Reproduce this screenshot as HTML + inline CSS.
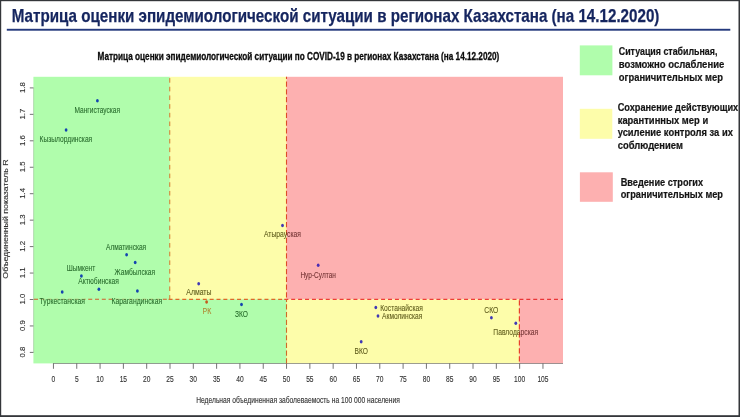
<!DOCTYPE html>
<html><head><meta charset="utf-8"><title>Матрица</title>
<style>html,body{margin:0;padding:0;background:#fff;}body{width:740px;height:417px;overflow:hidden;position:relative;font-family:"Liberation Sans",sans-serif;}svg{will-change:transform;position:absolute;left:0;top:0;display:block;}text{font-family:"Liberation Sans",sans-serif;}</style>
</head><body>
<svg width="740" height="417" viewBox="0 0 740 417">
<rect x="0" y="0" width="740" height="417" fill="#ffffff"/>
<text x="11.8" y="21.6" font-size="17.8" font-weight="bold" fill="#15255f" stroke="#15255f" stroke-width="0.25" textLength="647.6" lengthAdjust="spacingAndGlyphs">Матрица оценки эпидемиологической ситуации в регионах Казахстана (на 14.12.2020)</text>
<rect x="6.8" y="28.8" width="723.5" height="1.9" fill="#24397d"/>
<text x="97.6" y="59.6" font-size="10.2" font-weight="bold" fill="#0c0c0c" stroke="#0c0c0c" stroke-width="0.3" textLength="401.7" lengthAdjust="spacingAndGlyphs">Матрица оценки эпидемиологической ситуации по COVID-19 в регионах Казахстана (на 14.12.2020)</text>
<rect x="285.90" y="76.80" width="277.10" height="223.00" fill="#fdb0b0"/>
<rect x="518.80" y="299.30" width="44.20" height="64.10" fill="#fdb0b0"/>
<rect x="169.15" y="76.80" width="117.35" height="223.00" fill="#fdfdaa"/>
<rect x="285.90" y="299.30" width="233.50" height="64.10" fill="#fdfdaa"/>
<rect x="33.40" y="76.80" width="136.35" height="223.00" fill="#b0fdac"/>
<rect x="33.40" y="299.30" width="253.10" height="64.10" fill="#b0fdac"/>
<line x1="53.05" y1="363.50" x2="563.00" y2="363.50" stroke="#5a5a5a" stroke-width="0.8" stroke-opacity="0.75"/>
<line x1="53.45" y1="363.40" x2="53.45" y2="368.80" stroke="#5a5a5a" stroke-width="0.85"/>
<text x="51.60" y="382.4" font-size="9.5" fill="#262626" fill-opacity="0.95" stroke="#262626" stroke-width="0.18" stroke-opacity="0.6" textLength="3.7" lengthAdjust="spacingAndGlyphs">0</text>
<line x1="76.76" y1="363.40" x2="76.76" y2="368.80" stroke="#5a5a5a" stroke-width="0.85"/>
<text x="74.91" y="382.4" font-size="9.5" fill="#262626" fill-opacity="0.95" stroke="#262626" stroke-width="0.18" stroke-opacity="0.6" textLength="3.7" lengthAdjust="spacingAndGlyphs">5</text>
<line x1="100.07" y1="363.40" x2="100.07" y2="368.80" stroke="#5a5a5a" stroke-width="0.85"/>
<text x="96.37" y="382.4" font-size="9.5" fill="#262626" fill-opacity="0.95" stroke="#262626" stroke-width="0.18" stroke-opacity="0.6" textLength="7.4" lengthAdjust="spacingAndGlyphs">10</text>
<line x1="123.38" y1="363.40" x2="123.38" y2="368.80" stroke="#5a5a5a" stroke-width="0.85"/>
<text x="119.68" y="382.4" font-size="9.5" fill="#262626" fill-opacity="0.95" stroke="#262626" stroke-width="0.18" stroke-opacity="0.6" textLength="7.4" lengthAdjust="spacingAndGlyphs">15</text>
<line x1="146.69" y1="363.40" x2="146.69" y2="368.80" stroke="#5a5a5a" stroke-width="0.85"/>
<text x="142.99" y="382.4" font-size="9.5" fill="#262626" fill-opacity="0.95" stroke="#262626" stroke-width="0.18" stroke-opacity="0.6" textLength="7.4" lengthAdjust="spacingAndGlyphs">20</text>
<line x1="170.00" y1="363.40" x2="170.00" y2="368.80" stroke="#5a5a5a" stroke-width="0.85"/>
<text x="166.30" y="382.4" font-size="9.5" fill="#262626" fill-opacity="0.95" stroke="#262626" stroke-width="0.18" stroke-opacity="0.6" textLength="7.4" lengthAdjust="spacingAndGlyphs">25</text>
<line x1="193.31" y1="363.40" x2="193.31" y2="368.80" stroke="#5a5a5a" stroke-width="0.85"/>
<text x="189.61" y="382.4" font-size="9.5" fill="#262626" fill-opacity="0.95" stroke="#262626" stroke-width="0.18" stroke-opacity="0.6" textLength="7.4" lengthAdjust="spacingAndGlyphs">30</text>
<line x1="216.62" y1="363.40" x2="216.62" y2="368.80" stroke="#5a5a5a" stroke-width="0.85"/>
<text x="212.92" y="382.4" font-size="9.5" fill="#262626" fill-opacity="0.95" stroke="#262626" stroke-width="0.18" stroke-opacity="0.6" textLength="7.4" lengthAdjust="spacingAndGlyphs">35</text>
<line x1="239.93" y1="363.40" x2="239.93" y2="368.80" stroke="#5a5a5a" stroke-width="0.85"/>
<text x="236.23" y="382.4" font-size="9.5" fill="#262626" fill-opacity="0.95" stroke="#262626" stroke-width="0.18" stroke-opacity="0.6" textLength="7.4" lengthAdjust="spacingAndGlyphs">40</text>
<line x1="263.24" y1="363.40" x2="263.24" y2="368.80" stroke="#5a5a5a" stroke-width="0.85"/>
<text x="259.54" y="382.4" font-size="9.5" fill="#262626" fill-opacity="0.95" stroke="#262626" stroke-width="0.18" stroke-opacity="0.6" textLength="7.4" lengthAdjust="spacingAndGlyphs">45</text>
<line x1="286.55" y1="363.40" x2="286.55" y2="368.80" stroke="#5a5a5a" stroke-width="0.85"/>
<text x="282.85" y="382.4" font-size="9.5" fill="#262626" fill-opacity="0.95" stroke="#262626" stroke-width="0.18" stroke-opacity="0.6" textLength="7.4" lengthAdjust="spacingAndGlyphs">50</text>
<line x1="309.86" y1="363.40" x2="309.86" y2="368.80" stroke="#5a5a5a" stroke-width="0.85"/>
<text x="306.16" y="382.4" font-size="9.5" fill="#262626" fill-opacity="0.95" stroke="#262626" stroke-width="0.18" stroke-opacity="0.6" textLength="7.4" lengthAdjust="spacingAndGlyphs">55</text>
<line x1="333.17" y1="363.40" x2="333.17" y2="368.80" stroke="#5a5a5a" stroke-width="0.85"/>
<text x="329.47" y="382.4" font-size="9.5" fill="#262626" fill-opacity="0.95" stroke="#262626" stroke-width="0.18" stroke-opacity="0.6" textLength="7.4" lengthAdjust="spacingAndGlyphs">60</text>
<line x1="356.48" y1="363.40" x2="356.48" y2="368.80" stroke="#5a5a5a" stroke-width="0.85"/>
<text x="352.78" y="382.4" font-size="9.5" fill="#262626" fill-opacity="0.95" stroke="#262626" stroke-width="0.18" stroke-opacity="0.6" textLength="7.4" lengthAdjust="spacingAndGlyphs">65</text>
<line x1="379.79" y1="363.40" x2="379.79" y2="368.80" stroke="#5a5a5a" stroke-width="0.85"/>
<text x="376.09" y="382.4" font-size="9.5" fill="#262626" fill-opacity="0.95" stroke="#262626" stroke-width="0.18" stroke-opacity="0.6" textLength="7.4" lengthAdjust="spacingAndGlyphs">70</text>
<line x1="403.10" y1="363.40" x2="403.10" y2="368.80" stroke="#5a5a5a" stroke-width="0.85"/>
<text x="399.40" y="382.4" font-size="9.5" fill="#262626" fill-opacity="0.95" stroke="#262626" stroke-width="0.18" stroke-opacity="0.6" textLength="7.4" lengthAdjust="spacingAndGlyphs">75</text>
<line x1="426.41" y1="363.40" x2="426.41" y2="368.80" stroke="#5a5a5a" stroke-width="0.85"/>
<text x="422.71" y="382.4" font-size="9.5" fill="#262626" fill-opacity="0.95" stroke="#262626" stroke-width="0.18" stroke-opacity="0.6" textLength="7.4" lengthAdjust="spacingAndGlyphs">80</text>
<line x1="449.72" y1="363.40" x2="449.72" y2="368.80" stroke="#5a5a5a" stroke-width="0.85"/>
<text x="446.02" y="382.4" font-size="9.5" fill="#262626" fill-opacity="0.95" stroke="#262626" stroke-width="0.18" stroke-opacity="0.6" textLength="7.4" lengthAdjust="spacingAndGlyphs">85</text>
<line x1="473.03" y1="363.40" x2="473.03" y2="368.80" stroke="#5a5a5a" stroke-width="0.85"/>
<text x="469.33" y="382.4" font-size="9.5" fill="#262626" fill-opacity="0.95" stroke="#262626" stroke-width="0.18" stroke-opacity="0.6" textLength="7.4" lengthAdjust="spacingAndGlyphs">90</text>
<line x1="496.34" y1="363.40" x2="496.34" y2="368.80" stroke="#5a5a5a" stroke-width="0.85"/>
<text x="492.64" y="382.4" font-size="9.5" fill="#262626" fill-opacity="0.95" stroke="#262626" stroke-width="0.18" stroke-opacity="0.6" textLength="7.4" lengthAdjust="spacingAndGlyphs">95</text>
<line x1="519.65" y1="363.40" x2="519.65" y2="368.80" stroke="#5a5a5a" stroke-width="0.85"/>
<text x="514.10" y="382.4" font-size="9.5" fill="#262626" fill-opacity="0.95" stroke="#262626" stroke-width="0.18" stroke-opacity="0.6" textLength="11.1" lengthAdjust="spacingAndGlyphs">100</text>
<line x1="542.96" y1="363.40" x2="542.96" y2="368.80" stroke="#5a5a5a" stroke-width="0.85"/>
<text x="537.41" y="382.4" font-size="9.5" fill="#262626" fill-opacity="0.95" stroke="#262626" stroke-width="0.18" stroke-opacity="0.6" textLength="11.1" lengthAdjust="spacingAndGlyphs">105</text>
<line x1="33.60" y1="352.80" x2="33.60" y2="87.50" stroke="#5a5a5a" stroke-width="0.6" stroke-opacity="0.35"/>
<line x1="29.80" y1="352.40" x2="33.40" y2="352.40" stroke="#5a5a5a" stroke-width="0.85"/>
<text transform="translate(24.8,357.50) rotate(-90)" font-size="7" fill="#262626" fill-opacity="0.95" stroke="#262626" stroke-width="0.18" stroke-opacity="0.6" textLength="10.8" lengthAdjust="spacingAndGlyphs">0.8</text>
<line x1="29.80" y1="325.95" x2="33.40" y2="325.95" stroke="#5a5a5a" stroke-width="0.85"/>
<text transform="translate(24.8,331.05) rotate(-90)" font-size="7" fill="#262626" fill-opacity="0.95" stroke="#262626" stroke-width="0.18" stroke-opacity="0.6" textLength="10.8" lengthAdjust="spacingAndGlyphs">0.9</text>
<line x1="29.80" y1="299.50" x2="33.40" y2="299.50" stroke="#5a5a5a" stroke-width="0.85"/>
<text transform="translate(24.8,304.60) rotate(-90)" font-size="7" fill="#262626" fill-opacity="0.95" stroke="#262626" stroke-width="0.18" stroke-opacity="0.6" textLength="10.8" lengthAdjust="spacingAndGlyphs">1.0</text>
<line x1="29.80" y1="273.05" x2="33.40" y2="273.05" stroke="#5a5a5a" stroke-width="0.85"/>
<text transform="translate(24.8,278.15) rotate(-90)" font-size="7" fill="#262626" fill-opacity="0.95" stroke="#262626" stroke-width="0.18" stroke-opacity="0.6" textLength="10.8" lengthAdjust="spacingAndGlyphs">1.1</text>
<line x1="29.80" y1="246.60" x2="33.40" y2="246.60" stroke="#5a5a5a" stroke-width="0.85"/>
<text transform="translate(24.8,251.70) rotate(-90)" font-size="7" fill="#262626" fill-opacity="0.95" stroke="#262626" stroke-width="0.18" stroke-opacity="0.6" textLength="10.8" lengthAdjust="spacingAndGlyphs">1.2</text>
<line x1="29.80" y1="220.15" x2="33.40" y2="220.15" stroke="#5a5a5a" stroke-width="0.85"/>
<text transform="translate(24.8,225.25) rotate(-90)" font-size="7" fill="#262626" fill-opacity="0.95" stroke="#262626" stroke-width="0.18" stroke-opacity="0.6" textLength="10.8" lengthAdjust="spacingAndGlyphs">1.3</text>
<line x1="29.80" y1="193.70" x2="33.40" y2="193.70" stroke="#5a5a5a" stroke-width="0.85"/>
<text transform="translate(24.8,198.80) rotate(-90)" font-size="7" fill="#262626" fill-opacity="0.95" stroke="#262626" stroke-width="0.18" stroke-opacity="0.6" textLength="10.8" lengthAdjust="spacingAndGlyphs">1.4</text>
<line x1="29.80" y1="167.25" x2="33.40" y2="167.25" stroke="#5a5a5a" stroke-width="0.85"/>
<text transform="translate(24.8,172.35) rotate(-90)" font-size="7" fill="#262626" fill-opacity="0.95" stroke="#262626" stroke-width="0.18" stroke-opacity="0.6" textLength="10.8" lengthAdjust="spacingAndGlyphs">1.5</text>
<line x1="29.80" y1="140.80" x2="33.40" y2="140.80" stroke="#5a5a5a" stroke-width="0.85"/>
<text transform="translate(24.8,145.90) rotate(-90)" font-size="7" fill="#262626" fill-opacity="0.95" stroke="#262626" stroke-width="0.18" stroke-opacity="0.6" textLength="10.8" lengthAdjust="spacingAndGlyphs">1.6</text>
<line x1="29.80" y1="114.35" x2="33.40" y2="114.35" stroke="#5a5a5a" stroke-width="0.85"/>
<text transform="translate(24.8,119.45) rotate(-90)" font-size="7" fill="#262626" fill-opacity="0.95" stroke="#262626" stroke-width="0.18" stroke-opacity="0.6" textLength="10.8" lengthAdjust="spacingAndGlyphs">1.7</text>
<line x1="29.80" y1="87.90" x2="33.40" y2="87.90" stroke="#5a5a5a" stroke-width="0.85"/>
<text transform="translate(24.8,93.00) rotate(-90)" font-size="7" fill="#262626" fill-opacity="0.95" stroke="#262626" stroke-width="0.18" stroke-opacity="0.6" textLength="10.8" lengthAdjust="spacingAndGlyphs">1.8</text>
<text x="196.2" y="403.4" font-size="8.8" fill="#262626" fill-opacity="0.95" stroke="#262626" stroke-width="0.18" stroke-opacity="0.6" textLength="203.7" lengthAdjust="spacingAndGlyphs">Недельная объединенная заболеваемость на 100 000 населения</text>
<text transform="translate(8.1,278.7) rotate(-90)" font-size="6.6" fill="#262626" fill-opacity="0.95" stroke="#262626" stroke-width="0.18" stroke-opacity="0.6" textLength="119.3" lengthAdjust="spacingAndGlyphs">Объединенный показатель R</text>
<line x1="33.40" y1="299.30" x2="168.45" y2="299.30" stroke="#cf5e28" stroke-width="1.1" stroke-dasharray="4.0 2.780" stroke-dashoffset="6.180"/>
<line x1="168.45" y1="299.30" x2="283.90" y2="299.30" stroke="#dc6a2a" stroke-width="1.15" stroke-dasharray="4.0 2.850" stroke-dashoffset="6.750"/>
<line x1="283.90" y1="299.30" x2="519.40" y2="299.30" stroke="#ee3e34" stroke-width="1.3" stroke-dasharray="4.0 2.915" stroke-dashoffset="6.530"/>
<line x1="519.40" y1="299.30" x2="563.00" y2="299.30" stroke="#ea3436" stroke-width="1.3" stroke-dasharray="4.0 2.915" stroke-dashoffset="0.005"/>
<line x1="169.75" y1="299.70" x2="169.75" y2="76.80" stroke="#d4782c" stroke-width="1.0" stroke-dasharray="4.6 4.080" stroke-dashoffset="0.000"/>
<line x1="286.50" y1="363.40" x2="286.50" y2="299.30" stroke="#cf6a28" stroke-width="1.1" stroke-dasharray="5.2 2.490" stroke-dashoffset="0.000"/>
<line x1="286.50" y1="299.30" x2="286.50" y2="76.80" stroke="#de4c28" stroke-width="1.1" stroke-dasharray="5.2 2.610" stroke-dashoffset="6.080"/>
<line x1="519.40" y1="300.30" x2="519.40" y2="363.40" stroke="#e8402e" stroke-width="1.2" stroke-dasharray="5.3 2.700" stroke-dashoffset="0.000"/>
<defs>
<clipPath id="cg"><rect x="33.4" y="76.8" width="136.35" height="222.50"/><rect x="33.4" y="299.3" width="253.10" height="64.10"/></clipPath>
<clipPath id="cy"><rect x="169.75" y="76.8" width="116.75" height="222.50"/><rect x="286.5" y="299.3" width="232.90" height="64.10"/></clipPath>
<clipPath id="cr"><rect x="286.5" y="76.8" width="276.50" height="222.50"/><rect x="519.4" y="299.3" width="43.60" height="64.10"/></clipPath>
</defs>
<rect x="40.5" y="298.10" width="44" height="2.4" fill="#b0fdac" fill-opacity="0.62"/>
<rect x="112.3" y="298.10" width="49.3" height="2.4" fill="#b0fdac" fill-opacity="0.62"/>
<ellipse cx="97.4" cy="100.8" rx="1.4" ry="1.75" fill="#1444b0"/>
<text x="74.4" y="112.9" font-size="8.8" fill="#185c1e" fill-opacity="0.9" stroke="#185c1e" stroke-width="0.15" stroke-opacity="0.5" textLength="45.7" lengthAdjust="spacingAndGlyphs">Мангистауская</text>
<ellipse cx="66.1" cy="129.9" rx="1.4" ry="1.75" fill="#1444b0"/>
<text x="39.6" y="141.8" font-size="8.8" fill="#185c1e" fill-opacity="0.9" stroke="#185c1e" stroke-width="0.15" stroke-opacity="0.5" textLength="52.6" lengthAdjust="spacingAndGlyphs">Кызылординская</text>
<ellipse cx="126.6" cy="254.7" rx="1.4" ry="1.75" fill="#1444b0"/>
<text x="106.0" y="249.5" font-size="8.8" fill="#185c1e" fill-opacity="0.9" stroke="#185c1e" stroke-width="0.15" stroke-opacity="0.5" textLength="40.2" lengthAdjust="spacingAndGlyphs">Алматинская</text>
<ellipse cx="135.2" cy="262.6" rx="1.4" ry="1.75" fill="#1444b0"/>
<text x="114.6" y="274.5" font-size="8.8" fill="#185c1e" fill-opacity="0.9" stroke="#185c1e" stroke-width="0.15" stroke-opacity="0.5" textLength="40.5" lengthAdjust="spacingAndGlyphs">Жамбылская</text>
<ellipse cx="81.4" cy="275.9" rx="1.4" ry="1.75" fill="#1444b0"/>
<text x="66.7" y="271.1" font-size="8.8" fill="#185c1e" fill-opacity="0.9" stroke="#185c1e" stroke-width="0.15" stroke-opacity="0.5" textLength="28.5" lengthAdjust="spacingAndGlyphs">Шымкент</text>
<ellipse cx="98.9" cy="289.3" rx="1.4" ry="1.75" fill="#1444b0"/>
<text x="78.3" y="284.1" font-size="8.8" fill="#185c1e" fill-opacity="0.9" stroke="#185c1e" stroke-width="0.15" stroke-opacity="0.5" textLength="40.6" lengthAdjust="spacingAndGlyphs">Актюбинская</text>
<ellipse cx="62.2" cy="292.0" rx="1.4" ry="1.75" fill="#1444b0"/>
<text x="39.6" y="303.6" font-size="8.8" fill="#185c1e" fill-opacity="0.9" stroke="#185c1e" stroke-width="0.15" stroke-opacity="0.5" textLength="45.4" lengthAdjust="spacingAndGlyphs">Туркестанская</text>
<ellipse cx="137.4" cy="291.1" rx="1.4" ry="1.75" fill="#1444b0"/>
<text x="111.5" y="304.1" font-size="8.8" fill="#185c1e" fill-opacity="0.9" stroke="#185c1e" stroke-width="0.15" stroke-opacity="0.5" textLength="50.6" lengthAdjust="spacingAndGlyphs">Карагандинская</text>
<ellipse cx="282.5" cy="225.4" rx="1.4" ry="1.75" fill="#4038b4"/>
<text x="264.0" y="237.1" font-size="8.8" fill="#662828" fill-opacity="0.9" stroke="#662828" stroke-width="0.15" stroke-opacity="0.5" clip-path="url(#cr)" textLength="37.0" lengthAdjust="spacingAndGlyphs">Атырауская</text>
<text x="264.0" y="237.1" font-size="8.8" fill="#4e4a0c" fill-opacity="0.9" stroke="#4e4a0c" stroke-width="0.15" stroke-opacity="0.5" clip-path="url(#cy)" textLength="37.0" lengthAdjust="spacingAndGlyphs">Атырауская</text>
<ellipse cx="318.2" cy="265.3" rx="1.4" ry="1.75" fill="#4a2cb4"/>
<text x="300.4" y="277.5" font-size="8.8" fill="#662828" fill-opacity="0.9" stroke="#662828" stroke-width="0.15" stroke-opacity="0.5" textLength="35.5" lengthAdjust="spacingAndGlyphs">Нур-Султан</text>
<ellipse cx="198.7" cy="283.7" rx="1.4" ry="1.75" fill="#4038b4"/>
<text x="186.3" y="295.4" font-size="8.8" fill="#4e4a0c" fill-opacity="0.9" stroke="#4e4a0c" stroke-width="0.15" stroke-opacity="0.5" textLength="25.2" lengthAdjust="spacingAndGlyphs">Алматы</text>
<ellipse cx="206.6" cy="302.1" rx="1.4" ry="1.75" fill="#c4581c"/>
<text x="202.5" y="314.4" font-size="8.8" fill="#b07c26" fill-opacity="0.9" stroke="#b07c26" stroke-width="0.15" stroke-opacity="0.5" textLength="8.7" lengthAdjust="spacingAndGlyphs">РК</text>
<ellipse cx="241.5" cy="304.6" rx="1.4" ry="1.75" fill="#1444b0"/>
<text x="235.0" y="316.8" font-size="8.8" fill="#185c1e" fill-opacity="0.9" stroke="#185c1e" stroke-width="0.15" stroke-opacity="0.5" textLength="13.0" lengthAdjust="spacingAndGlyphs">ЗКО</text>
<ellipse cx="375.8" cy="307.4" rx="1.4" ry="1.75" fill="#4038b4"/>
<text x="380.2" y="310.5" font-size="8.8" fill="#4e4a0c" fill-opacity="0.9" stroke="#4e4a0c" stroke-width="0.15" stroke-opacity="0.5" textLength="42.7" lengthAdjust="spacingAndGlyphs">Костанайская</text>
<ellipse cx="378.0" cy="315.9" rx="1.4" ry="1.75" fill="#4038b4"/>
<text x="382.1" y="319.0" font-size="8.8" fill="#4e4a0c" fill-opacity="0.9" stroke="#4e4a0c" stroke-width="0.15" stroke-opacity="0.5" textLength="40.2" lengthAdjust="spacingAndGlyphs">Акмолинская</text>
<ellipse cx="361.2" cy="341.7" rx="1.4" ry="1.75" fill="#4038b4"/>
<text x="354.6" y="354.2" font-size="8.8" fill="#4e4a0c" fill-opacity="0.9" stroke="#4e4a0c" stroke-width="0.15" stroke-opacity="0.5" textLength="13.4" lengthAdjust="spacingAndGlyphs">ВКО</text>
<ellipse cx="491.4" cy="317.7" rx="1.4" ry="1.75" fill="#4038b4"/>
<text x="484.3" y="313.1" font-size="8.8" fill="#4e4a0c" fill-opacity="0.9" stroke="#4e4a0c" stroke-width="0.15" stroke-opacity="0.5" textLength="14.0" lengthAdjust="spacingAndGlyphs">СКО</text>
<ellipse cx="515.8" cy="323.3" rx="1.4" ry="1.75" fill="#4038b4"/>
<text x="493.3" y="334.5" font-size="8.8" fill="#662828" fill-opacity="0.9" stroke="#662828" stroke-width="0.15" stroke-opacity="0.5" clip-path="url(#cr)" textLength="44.9" lengthAdjust="spacingAndGlyphs">Павлодарская</text>
<text x="493.3" y="334.5" font-size="8.8" fill="#4e4a0c" fill-opacity="0.9" stroke="#4e4a0c" stroke-width="0.15" stroke-opacity="0.5" clip-path="url(#cy)" textLength="44.9" lengthAdjust="spacingAndGlyphs">Павлодарская</text>
<rect x="579.80" y="45.40" width="32.60" height="29.90" fill="#b0fdac"/>
<rect x="579.80" y="108.80" width="32.50" height="30.00" fill="#fdfdaa"/>
<rect x="579.90" y="172.30" width="32.90" height="29.50" fill="#fdb0b0"/>
<text x="618.8" y="55.3" font-size="10.4" font-weight="bold" fill="#151515" stroke="#151515" stroke-width="0.2" textLength="98.6" lengthAdjust="spacingAndGlyphs">Ситуация стабильная,</text>
<text x="618.8" y="67.9" font-size="10.4" font-weight="bold" fill="#151515" stroke="#151515" stroke-width="0.2" textLength="105.5" lengthAdjust="spacingAndGlyphs">возможно ослабление</text>
<text x="618.8" y="80.5" font-size="10.4" font-weight="bold" fill="#151515" stroke="#151515" stroke-width="0.2" textLength="104.2" lengthAdjust="spacingAndGlyphs">ограничительных мер</text>
<text x="617.7" y="111.1" font-size="10.4" font-weight="bold" fill="#151515" stroke="#151515" stroke-width="0.2" textLength="120.5" lengthAdjust="spacingAndGlyphs">Сохранение действующих</text>
<text x="617.7" y="123.7" font-size="10.4" font-weight="bold" fill="#151515" stroke="#151515" stroke-width="0.2" textLength="90.5" lengthAdjust="spacingAndGlyphs">карантинных мер и</text>
<text x="617.7" y="136.1" font-size="10.4" font-weight="bold" fill="#151515" stroke="#151515" stroke-width="0.2" textLength="115.2" lengthAdjust="spacingAndGlyphs">усиление контроля за их</text>
<text x="617.7" y="148.5" font-size="10.4" font-weight="bold" fill="#151515" stroke="#151515" stroke-width="0.2" textLength="65.2" lengthAdjust="spacingAndGlyphs">соблюдением</text>
<text x="620.7" y="186.1" font-size="10.4" font-weight="bold" fill="#151515" stroke="#151515" stroke-width="0.2" textLength="82.4" lengthAdjust="spacingAndGlyphs">Введение строгих</text>
<text x="620.7" y="198.4" font-size="10.4" font-weight="bold" fill="#151515" stroke="#151515" stroke-width="0.2" textLength="102.3" lengthAdjust="spacingAndGlyphs">ограничительных мер</text>
<rect x="0" y="0" width="740" height="1.2" fill="#34363a"/>
<rect x="0" y="0" width="1.2" height="417" fill="#34363a"/>
<rect x="738.5" y="0" width="1.5" height="417" fill="#34363a"/>
<rect x="0" y="415.2" width="740" height="1.8" fill="#34363a"/>
</svg>
</body></html>
